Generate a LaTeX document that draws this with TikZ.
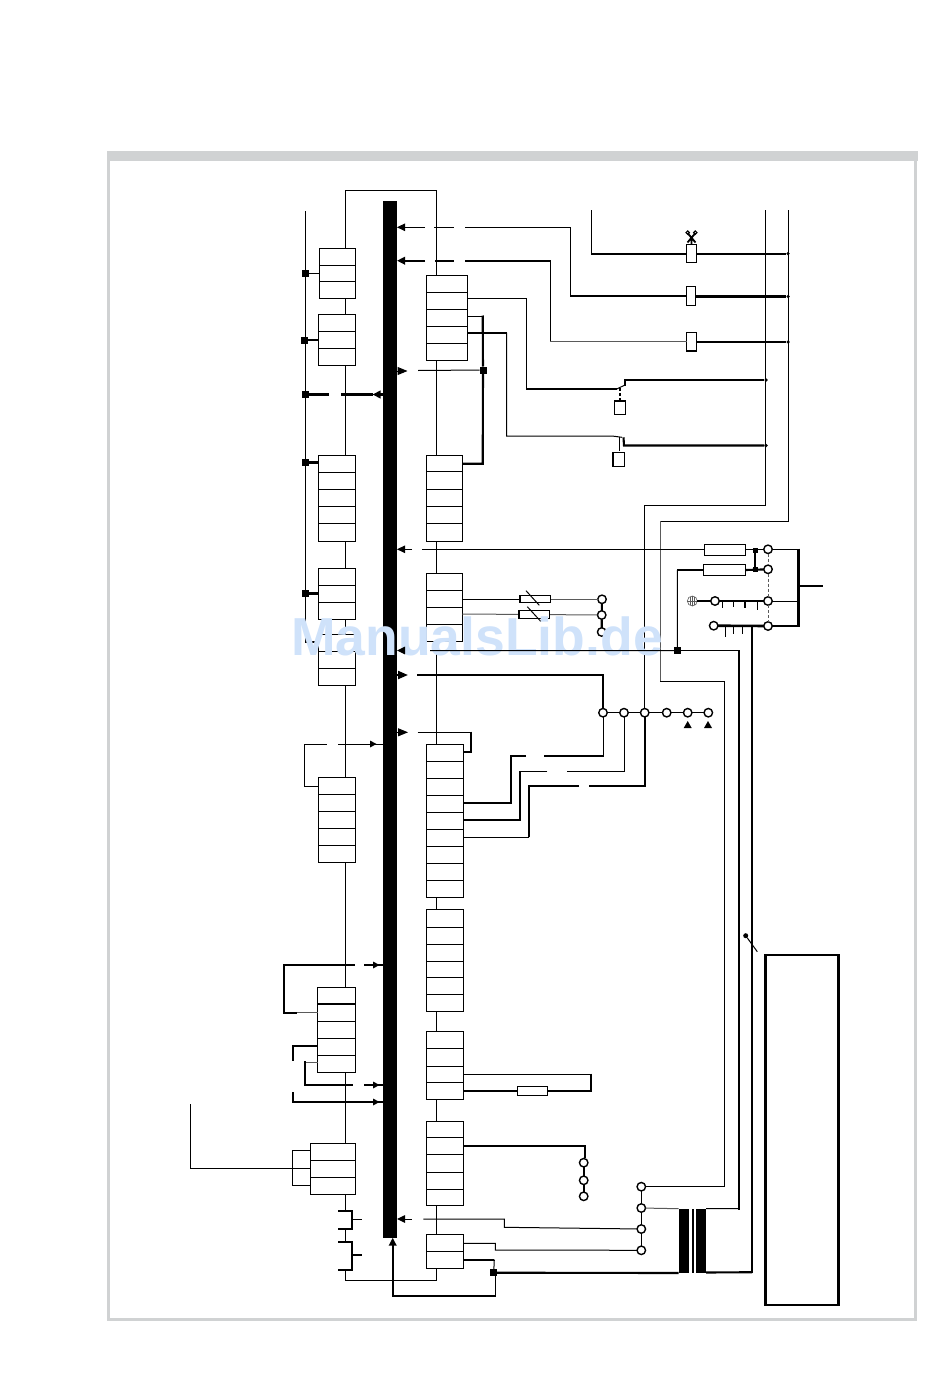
\documentclass[tikz,border=0pt]{standalone}
\usepackage{fontspec}
\setmainfont{Liberation Sans}
\usetikzlibrary{arrows.meta}
\definecolor{framegrey}{HTML}{D0D2D3}
\definecolor{wmblue}{HTML}{CFE2FA}
\definecolor{wiregrey}{HTML}{5A5A5A}
\tikzset{
  wire/.style={line width=1pt,line join=miter},
  heavy/.style={line width=2.1pt,line join=miter},
  gwire/.style={line width=1pt,draw=wiregrey},
  rowb/.style={draw,line width=1pt,fill=white,inner sep=0,outer sep=0},
  term/.style={circle,draw,line width=1.4pt,fill=white,inner sep=0,outer sep=0,minimum size=8.5pt},
  sq/.style={rectangle,fill=black,inner sep=0,outer sep=0,minimum size=7pt},
  dotj/.style={circle,fill=black,inner sep=0,outer sep=0,minimum size=3.5pt},
  fuse/.style={rectangle,draw,line width=1.1pt,fill=white,inner sep=0,outer sep=0},
  tipw/.style={-{Triangle[length=8pt,width=7.5pt]}},
  tipb/.style={-{Triangle[length=10pt,width=8pt]}},
}
\newcommand{\rowbox}[6]{%
  \node[rowb,minimum width={(#4-#2)*1pt},minimum height={(#5-#3)*1pt}] (#1) at ({(#2+#4)/2},{(#3+#5)/2}) {};
  \foreach \d in {#6} \draw[wire] (#1.west |- 0,\d) -- (#1.east |- 0,\d);
}
\newcommand{\fusebox}[5]{%
  \node[fuse,minimum width={(#4-#2)*1pt},minimum height={(#5-#3)*1pt}] (#1) at ({(#2+#4)/2},{(#3+#5)/2}) {};
}
\begin{document}
\begin{tikzpicture}[x=1pt,y=-1pt]
\useasboundingbox (0,0) rectangle (950,1378);
% frame
\draw[framegrey,line width=3pt] (108.5,155) -- (108.5,1319.5) -- (915.5,1319.5) -- (915.5,155);
\fill[framegrey] (106.5,150.5) rectangle (918,160.5);
% main bar
\node[rectangle,fill=black,inner sep=0,outer sep=0,minimum width=14pt,minimum height=1036.7pt] (bar) at (390,719.35) {};

% centre chains
\draw[wire] (345,248) -- (345,190) -- (436,190) -- (436,275);
\draw[wire] (345,298) -- (345,1210.7);
\draw[wire] (345,1228.7) -- (345,1241.7);
\draw[wire] (345,1270) -- (345,1280) -- (436.3,1280) -- (436.3,1268);
\draw[wire] (436.3,360) -- (436.3,1235);
% left bus
\coordinate (lbt) at (305.3,211);
\coordinate (lbb) at (305.3,642);
\draw[wire] (lbt) -- (lbb);

% boxes
\rowbox{L1}{319.3}{248.3}{355.7}{298.3}{265.3,281.3}
\rowbox{L2}{318.3}{314.3}{355.7}{365.3}{331.3,348.3}
\rowbox{L3}{318.3}{455.3}{355.7}{541}{472.3,489.3,506,523}
\rowbox{L4}{318.3}{568.3}{355.7}{619.3}{585.3,602.3}
\rowbox{L5}{318.3}{634.3}{355.7}{685.3}{651.3,668.3}
\rowbox{L6}{318.3}{777.3}{355.7}{862.3}{794.3,811.3,828.3,845.3}
\rowbox{L7}{317.7}{987}{355.3}{1072.3}{1021,1038.3,1055.3}
\draw[heavy] (L7.west |- 0,1003.7) -- (L7.east |- 0,1003.7);
\rowbox{L8}{310.3}{1143.3}{355.7}{1194.3}{1160.3}
\draw[line width=1.5pt] (L8.west |- 0,1177.3) -- (L8.east |- 0,1177.3);
\rowbox{R1}{426.3}{275.3}{467.3}{360.3}{292.3,309.3,326.3,343.3}
\rowbox{R2}{426.3}{455.3}{462.7}{541}{471,489.3,506,523}
\rowbox{R3}{426.3}{573.3}{462.3}{641.3}{590.3,607.3,624.3}
\rowbox{R4}{426.3}{744.3}{463.3}{897.3}{761.3,778.3,795.3,812.3,829.3,846.3,863.3,880.3}
\rowbox{R5}{426.3}{909.3}{463.3}{1011.3}{927,944,961.3,977.3,994.3}
\rowbox{R6}{426.3}{1031.3}{463.3}{1099.3}{1048.3,1066.3,1082.3}
\rowbox{R7}{426.3}{1121.3}{463.3}{1205.3}{1137.3,1154.3,1172.3,1189.3}
\rowbox{R8}{426.3}{1234.3}{463.3}{1268.3}{1251.3}

% left bus junctions
\node[sq] (s1) at (305,273.5) {};
\node[sq] (s2) at (304.5,340) {};
\node[sq] (s3) at (305,394.5) {};
\node[sq] (s4) at (305,462.5) {};
\node[sq] (s5) at (305,593.5) {};
\draw[wire] (s1) -- (L1.west |- s1);
\draw[heavy] (s2) -- (L2.west |- s2);
\draw[heavy] (s4) -- (L3.west |- s4);
\draw[heavy] (s5) -- (L4.west |- s5);
\draw[heavy] (lbb) -- (L5.west |- lbb);
\draw[heavy] (s3) -- (328.7,394.5);
\draw[heavy,tipw] (bar.west |- s3) -- (372.5,394.5);
\draw[heavy] (341.3,394.5) -- (372.5,394.5);

% fuses on top
\fusebox{F1}{686.7}{244.3}{696.3}{262.3}
\fusebox{F2}{686.7}{286.7}{695.7}{305.3}
\fusebox{F3}{686.7}{332.3}{696.3}{351}
\node[dotj] (d1) at (788,253.7) {};
\node[dotj] (d2) at (788,296.5) {};
\node[dotj] (d3) at (788,342) {};
\node[dotj] (d4) at (766,380) {};
\node[dotj] (d5) at (766,445.5) {};
\draw[wire] (765.7,210) -- (765.7,505) -- (644.3,505) -- (644.3,712.7);
\draw[wire] (788,210) -- (788,521) -- (660,521);
\draw[gwire] (660,521) -- (660,681.7);
\draw[wire] (660,681.7) -- (724.3,681.7) -- (724.3,1186.7);
\draw[heavy] (591.3,253.7) -- (F1.west |- 0,253.7);
\draw[wire] (591.3,210) -- (591.3,253.7);
\draw[heavy] (F1.east |- d1) -- (d1);
\draw[heavy] (F2.east |- d2) -- (d2);
\draw[heavy] (F3.east |- d3) -- (d3);
% star
\draw[line width=1.8pt] (687.5,233) -- (695.5,242.5) (695.5,233) -- (687.5,242.5) (691.5,238) -- (F1.north);
\draw[line width=1.1pt] (687.7,232.6) circle (1.7) (695.3,232.6) circle (1.7);

% arrow 1
\draw[wire,tipw] (425,227.3) -- (bar.east |- 0,227.3);
\draw[wire] (434,227.3) -- (454,227.3);
\draw[wire] (465,227.3) -- (570.5,227.3);
\draw[wire] (570.5,227.3) -- (570.5,296);
\draw[heavy] (570,296) -- (F2.west |- 0,296);
% arrow 2
\draw[heavy,tipw] (425,260.7) -- (bar.east |- 0,260.7);
\draw[heavy] (435,260.7) -- (454,260.7);
\draw[heavy] (465,260.7) -- (550.3,260.7);
\draw[wire] (550.3,260) -- (550.3,341);
\draw[gwire] (550.3,341) -- (F3.west |- 0,341);

% R1 outputs
\draw[wire] (R1.east |- 0,298.3) -- (526.3,298.3) -- (526.3,389);
\draw[heavy] (526,389) -- (616.7,389);
\draw[wire] (616.7,389) -- (625,385);
\draw[heavy] (625,385.5) -- (625,380) -- (d4);
\draw[line width=1.5pt,dashed,dash pattern=on 3pt off 2pt] (620,388) -- (620,401);
\fusebox{K1}{614.3}{401}{625.3}{414.3}
\draw[heavy] (R1.east |- 0,332.7) -- (506.7,332.7);
\draw[wire] (506.7,332.7) -- (506.7,436) -- (612,436) -- (622,437.3);
\draw[heavy] (623.5,437.3) -- (624,445.5) -- (d5);
\draw[wire] (619.3,437) -- (619.3,451);
\fusebox{K2}{613}{452.3}{624.7}{466.7}
\draw[wire] (R1.east |- 0,316.3) -- (482.7,316.3);
\node[sq] (s6) at (483,370) {};
\draw[heavy] (482.7,315.5) -- (s6) -- (482.7,463.7) -- (R2.east |- 0,463.7);
\draw[wire] (418,370.5) -- (s6);
\draw[wire,tipb] (bar.east |- 0,371) -- (407.5,371);

% y=549 line
\fusebox{FA}{704.3}{544.3}{745.7}{555.3}
\fusebox{FB}{703.7}{564.3}{745.7}{575.3}
\node[term] (t1) at (768,549.3) {};
\node[term] (t2) at (768,569.3) {};
\node[term] (t3) at (768,601) {};
\node[term] (t4) at (768,626) {};
\node[term] (t5) at (715,601) {};
\node[term] (t6) at (713.7,625.7) {};
\draw[wire,tipw] (412,549.3) -- (bar.east |- 0,549.3);
\draw[wire] (422,549.3) -- (FA.west |- 0,549.3);
\node[sq,minimum size=5pt] (s7) at (755,550) {};
\node[sq,minimum size=5pt] (s8) at (755,569.5) {};
\draw[wire] (FA.east |- 0,549.3) -- (t1);
\draw[heavy] (s7) -- (s8);
\draw[gwire,dashed,dash pattern=on 3pt off 2pt,line width=.6pt] (t1) -- (t2) -- (t3) -- (t4);
\draw[wire] (t1) -- (798.3,549.3);
\draw[wire] (t3) -- (798.3,601);
\draw[line width=2.6pt] (798.3,548.5) -- (798.3,626) -- (t4);
\draw[heavy] (798.3,586) -- (823,586);
\node[circle,draw=wiregrey,line width=.6pt,fill=white,inner sep=0,outer sep=0,minimum size=10pt] (earth) at (692.3,601) {};
\draw[wiregrey,line width=.6pt] (earth.north) -- (earth.south) (earth.west) -- (earth.east) (690,597) -- (690,605) (694.6,597) -- (694.6,605);
\draw[heavy] (earth) -- (t5);
\draw[line width=2.6pt] (t5) -- (t3);
\foreach \x/\e in {722.7/608,733.7/607,745/607.5,757.3/610} \draw[line width=1.5pt] (\x,601) -- (\x,\e);
\draw[line width=2.6pt] (t6) -- (t4);
\foreach \x/\e in {725.7/636.7,733.7/633.5,742.7/633.5} \draw[line width=1.5pt] (\x,626) -- (\x,\e);

% R3 outputs
\node[term] (t7) at (602,599.3) {};
\node[term] (t8) at (601.7,615) {};
\node[term] (t9) at (601.7,632) {};
\draw[heavy] (t7) -- (t8) -- (t9);
\draw[wire] (R3.east |- t7) -- (520,599.3);
\draw[gwire] (550.7,599.3) -- (t7);
\draw[gwire] (R3.east |- 0,614) -- (t8);
\fusebox{P1}{520}{595.3}{550.7}{602.7}
\fusebox{P2}{519}{610.3}{549.3}{618.3}
\draw[wire] (526,590.7) -- (539.3,605.3);
\draw[wire] (527.3,606.7) -- (540.7,621.3);

% row of terminals
\node[term] (a1) at (603,712.7) {};
\node[term] (a2) at (624,712.7) {};
\node[term] (a3) at (644.7,712.7) {};
\node[term] (a4) at (666.7,712.7) {};
\node[term] (a5) at (687.7,712.7) {};
\node[term] (a6) at (708.3,712.7) {};
\draw[wire] (a1) -- (a2) -- (a3) -- (a4) -- (a5) -- (a6);
\fill (687.7,721) -- (691.7,728) -- (683.7,728) -- cycle;
\fill (708,721) -- (712,728) -- (704,728) -- cycle;
\draw[heavy] (417,675) -- (603,675) -- (a1);
\draw[heavy,tipb] (bar.east |- 0,675) -- (408,675);
\draw[wire] (a1) -- (603,755.7);
\draw[heavy] (603.5,755.7) -- (544,755.7);
\draw[heavy] (526,755.7) -- (511,755.7) -- (511,802.7) -- (R4.east |- 0,802.7);
\draw[wire] (a2) -- (624,771) -- (567.3,771);
\draw[wire] (547.3,771) -- (520,771);
\draw[heavy] (520,771) -- (520,820) -- (R4.east |- 0,820);
\draw[heavy] (a3) -- (644.7,786) -- (589,786);
\draw[heavy] (579,786) -- (529.3,786);
\draw[heavy] (529.3,785) -- (529.3,837);
\draw[wire] (529.3,837) -- (R4.east |- 0,837);
\draw[wire] (417.7,732.3) -- (470.7,732.3);
\draw[heavy] (470.7,731.5) -- (470.7,752) -- (R4.east |- 0,752);
\draw[wire,tipb] (bar.east |- 0,732.3) -- (408,732.3);

% L6 loop
\draw[wire] (L6.west |- 0,786.3) -- (304.3,786.3) -- (304.3,744) -- (326.7,744);
\draw[wire] (338.3,744) -- (bar.west |- 0,744);
\fill (376.5,744) -- (370,740.5) -- (370,747.5) -- cycle;

% L7 wiring
\draw[heavy] (284,1012.7) -- (284,965) -- (355,965);
\draw[heavy] (283,1012.7) -- (297,1012.7);
\draw[gwire] (297,1012.7) -- (L7.west |- 0,1012.7);
\draw[heavy] (364,965) -- (bar.west |- 0,965);
\fill (379.5,965) -- (373,961.5) -- (373,968.5) -- cycle;
\draw[heavy] (293.3,1060.7) -- (293.3,1046) -- (L7.west |- 0,1046);
\draw[gwire] (L7.west |- 0,1062) -- (304.7,1062);
\draw[heavy] (304.7,1061) -- (304.7,1085) -- (352.7,1085);
\draw[heavy] (364,1085) -- (bar.west |- 0,1085);
\fill (379.5,1085) -- (373,1081.5) -- (373,1088.5) -- cycle;
\draw[heavy] (293.3,1092.3) -- (293.3,1102) -- (bar.west |- 0,1102);
\fill (379.5,1102) -- (373,1098.5) -- (373,1105.5) -- cycle;

% L8 wiring
\draw[wire] (L8.west |- 0,1150.3) -- (292.3,1150.3) -- (292.3,1185.3) -- (L8.west |- 0,1185.3);
\draw[wire] (190.3,1104) -- (190.3,1168.3) -- (L8.west |- 0,1168.3);
% switches
\draw[heavy] (338.3,1210.7) -- (352.3,1210.7) -- (352.3,1228.7) -- (338.3,1228.7);
\draw[wire] (352.3,1219) -- (361.7,1219);
\draw[heavy] (338.3,1241.7) -- (352.3,1241.7) -- (352.3,1270) -- (338.3,1270);
\draw[heavy] (352.3,1254.7) -- (361.7,1254.7);

% transformer terminals
\node[term] (b1) at (641.3,1186.7) {};
\node[term] (b2) at (641.3,1208) {};
\node[term] (b3) at (641.3,1229) {};
\node[term] (b4) at (641.3,1250.3) {};
\draw[wire] (b1) -- (b2) -- (b3) -- (b4);
\draw[wire] (b1) -- (724.8,1186.7);
\node[rectangle,fill=black,inner sep=0,outer sep=0,minimum width=10.3pt,minimum height=64.3pt] (T1) at (683.85,1240.85) {};
\node[rectangle,fill=black,inner sep=0,outer sep=0,minimum width=2.3pt,minimum height=64.3pt] (T2) at (692.85,1240.85) {};
\node[rectangle,fill=black,inner sep=0,outer sep=0,minimum width=9.7pt,minimum height=64.3pt] (T3) at (701.15,1240.85) {};
\draw[gwire] (b2) -- (T1.north west);
\draw[wire] (T3.north east) -- (739,1208.7);
\draw[heavy] (739,1209.7) -- (739,650.7);
\draw[heavy] (T3.south east) ++(0,-0.5) -- (752,1272.2);
\draw[heavy] (752,1273.2) -- (752,626);

\draw[wire,tipw] (411.7,1219) -- (bar.east |- 0,1219);
\draw[wire] (423.3,1219) -- (504.3,1219) -- (504.3,1227.3) -- (b3);
\draw[wire] (b4) -- (495.3,1250) -- (495.3,1243.3) -- (R8.east |- 0,1243.3);
\node[sq] (s9) at (493.7,1272.7) {};
\draw[heavy] (s9) -- (T1.south west);
\draw[heavy] (R8.east |- 0,1259.7) -- (494.3,1259.7);
\draw[wire] (494.3,1259.7) -- (s9);
\draw[wire] (495,1272) -- (495,1296);
\draw[heavy,tipw] (495.5,1296) -- (392.7,1296) -- (bar.south -| 392.7,0);

% R6, R7
\draw[wire] (R6.east |- 0,1074) -- (591.3,1074);
\draw[heavy] (591.3,1073.5) -- (591.3,1090.7);
\fusebox{P3}{517.3}{1086.7}{547.7}{1095.7}
\draw[heavy] (R6.east |- 0,1090.7) -- (P3.west |- 0,1090.7);
\draw[heavy] (P3.east |- 0,1090.7) -- (592.3,1090.7);
\node[term] (c1) at (583.7,1162.7) {};
\node[term] (c2) at (583.7,1180.3) {};
\node[term] (c3) at (583.7,1196.3) {};
\draw[heavy] (R7.east |- 0,1145.7) -- (585,1145.7) -- (585,1158);
\draw[heavy] (c1) -- (c2) -- (c3);

% big box
\node[rectangle,draw,line width=2.2pt,inner sep=0,outer sep=0,minimum width=73pt,minimum height=350pt] (big) at (802,1130) {};
\node[circle,fill=black,inner sep=0,outer sep=0,minimum size=5pt] (td) at (745.7,935.7) {};
\coordinate (te) at (757.3,951.7);
\draw[wire] (td) -- (te);

% watermark
\node[anchor=base west,inner sep=0,text=wmblue,font=\bfseries\fontsize{53.5}{53.5}\selectfont] (wm) at (291,655) {ManualsLib.de};

% y=650 line over watermark
\node[sq] (s10) at (677.5,650.7) {};
\draw[wire,tipw] (404,650.5) -- (bar.east |- 0,650.5);
\draw[wire] (430,650.5) -- (s10);
\draw[wire] (s10) -- (739.5,650.7);
\draw[wire] (s10) -- (677.3,570);
\draw[heavy] (677.3,570) -- (FB.west |- 0,570);
\draw[heavy] (FB.east |- 0,570) -- (t2);
\end{tikzpicture}
\end{document}
